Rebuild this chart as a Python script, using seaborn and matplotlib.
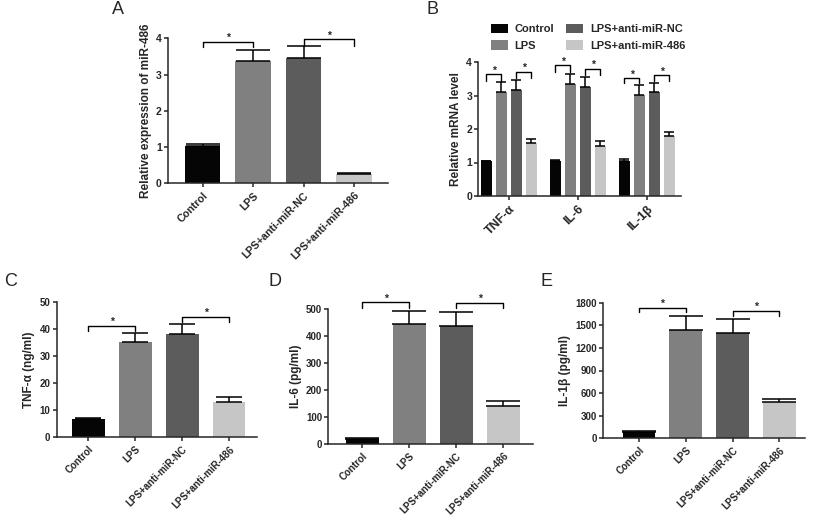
import numpy as np
import pandas as pd
import matplotlib
matplotlib.use('Agg')
import matplotlib.pyplot as plt
from matplotlib import font_manager
import seaborn as sns

# groups and colours
groups = ['Control', 'LPS', 'LPS+anti-miR-NC', 'LPS+anti-miR-486']
colors = ['#050505', '#808080', '#5c5c5c', '#c6c6c6']

# panel A - miR-486
mir_mean = [1.03, 3.38, 3.46, 0.26]
mir_err = [0.05, 0.31, 0.32, 0.02]

# panel B - mRNA levels
genes = ['TNF-α', 'IL-6', 'IL-1β']
b_control = [1.03, 1.04, 1.03]
b_control_err = [0.02, 0.03, 0.08]
b_lps = [3.10, 3.33, 3.02]
b_lps_err = [0.29, 0.31, 0.28]
b_nc = [3.15, 3.25, 3.10]
b_nc_err = [0.30, 0.31, 0.28]
b_486 = [1.57, 1.50, 1.78]
b_486_err = [0.12, 0.13, 0.14]

# panels C, D, E - ELISA
tnf_mean = [6.6, 35.3, 38.1, 13.1]
tnf_err = [0.4, 3.3, 3.5, 1.6]
il6_mean = [18, 444, 439, 141]
il6_err = [3, 51, 50, 20]
il1b_mean = [80, 1442, 1402, 482]
il1b_err = [17, 186, 177, 40]

# keep the narrow variant of Liberation Sans out of the font lookup
font_manager.fontManager.ttflist = [f for f in font_manager.fontManager.ttflist
                                    if 'Narrow' not in f.fname]

sns.set_style('ticks')
plt.rcParams['font.family'] = ['Liberation Sans', 'DejaVu Sans']
plt.rcParams['font.weight'] = 'bold'
plt.rcParams['axes.labelweight'] = 'bold'
plt.rcParams['axes.linewidth'] = 1.1
plt.rcParams['xtick.major.width'] = 1.1
plt.rcParams['ytick.major.width'] = 1.1
plt.rcParams['xtick.major.size'] = 3
plt.rcParams['ytick.major.size'] = 3
plt.rcParams['xtick.major.pad'] = 2
plt.rcParams['ytick.major.pad'] = 1.5

W, H = 813, 520
fig = plt.figure(figsize=(W / 100, H / 100), dpi=100)


def make_ax(left, right, top, bottom):
    return fig.add_axes([left / W, 1 - bottom / H, (right - left) / W, (bottom - top) / H])


def bracket(ax, x1, x2, y, y1, y2):
    ax.plot([x1, x1, x2, x2], [y1, y, y, y2], color='black', lw=1.0, clip_on=False)
    ax.annotate('*', xy=((x1 + x2) / 2, y), xytext=(0, -1), textcoords='offset points',
                ha='center', va='bottom', fontsize=7.5, fontweight='bold', annotation_clip=False)


def add_err(ax, xs, ys, errs, capsize):
    ax.errorbar(xs, ys, yerr=[np.zeros(len(errs)), errs], fmt='none', ecolor='black',
                elinewidth=1.1, capsize=capsize, capthick=1.1, zorder=5)


def simple_panel(ax, means, errs, ylabel, ylim, step, xlim, capsize, xsize, ysize):
    df = pd.DataFrame({'group': groups, 'value': means})
    sns.barplot(data=df, x='group', y='value', hue='group', palette=colors,
                legend=False, width=0.7, ax=ax, saturation=1, errorbar=None, linewidth=0)
    add_err(ax, np.arange(len(groups)), means, errs, capsize)
    ax.set_ylim(*ylim)
    ax.set_yticks(np.arange(ylim[0], ylim[1] + step / 2, step))
    ax.set_xlim(*xlim)
    ax.set_xlabel('')
    ax.set_ylabel(ylabel, fontsize=8.5, labelpad=3)
    ax.set_xticks(range(len(groups)))
    ax.set_xticklabels(groups, rotation=45, ha='right', rotation_mode='anchor')
    ax.tick_params(axis='x', labelsize=xsize)
    ax.tick_params(axis='y', labelsize=ysize)
    sns.despine(ax=ax)


# A
axA = make_ax(168, 388, 38.3, 183.3)
simple_panel(axA, mir_mean, mir_err, 'Relative expression of miR-486', (0, 4), 1,
             (-0.683, 3.67), 12, 7.7, 7.5)
bracket(axA, 0, 1, 3.9, 3.75, 3.75)
bracket(axA, 2, 3, 3.97, 3.8, 3.8)

# B
axB = make_ax(478.3, 680.7, 62, 196)
dfB = pd.DataFrame({
    'gene': genes * 4,
    'group': np.repeat(groups, 3),
    'value': b_control + b_lps + b_nc + b_486,
})
errsB = [b_control_err, b_lps_err, b_nc_err, b_486_err]
sns.barplot(data=dfB, x='gene', y='value', hue='group', palette=colors, width=0.87,
            gap=0.22, saturation=1, errorbar=None, linewidth=0, ax=axB)
centers = []
for cont, e in zip(axB.containers, errsB):
    xs = [p.get_x() + p.get_width() / 2 for p in cont]
    ys = [p.get_height() for p in cont]
    centers.append(xs)
    add_err(axB, xs, ys, e, 3.6)
axB.set_ylim(0, 4)
axB.set_yticks(range(5))
axB.set_xlim(-0.445, 2.49)
axB.set_xlabel('')
axB.set_ylabel('Relative mRNA level', fontsize=8.5, labelpad=3)
axB.set_xticks(range(3))
axB.set_xticklabels(genes, rotation=45, ha='right', rotation_mode='anchor')
axB.tick_params(axis='x', labelsize=9)
axB.tick_params(axis='y', labelsize=7.5)
sns.despine(ax=axB)
leg = axB.legend(ncol=2, loc='lower left', bbox_to_anchor=(0.04, 1.05), frameon=False,
                 prop={'size': 8, 'weight': 'bold'}, handlelength=1.5, handleheight=0.9,
                 columnspacing=1.05, handletextpad=0.65, labelspacing=0.55, borderaxespad=0)
bB = [(3.63, 3.43, 3.43, 3.71, 3.51, 3.51),
      (3.90, 3.70, 3.70, 3.80, 3.61, 3.61),
      (3.52, 3.36, 3.36, 3.60, 3.43, 3.43)]
for i, (ya, ya1, ya2, yb, yb1, yb2) in enumerate(bB):
    bracket(axB, centers[0][i], centers[1][i], ya, ya1, ya2)
    bracket(axB, centers[2][i], centers[3][i], yb, yb1, yb2)

# C
axC = make_ax(56.7, 256.7, 301.7, 437.3)
simple_panel(axC, tnf_mean, tnf_err, 'TNF-α (ng/ml)', (0, 50), 10, (-0.674, 3.59), 9.6, 7, 7)
bracket(axC, 0, 1, 41.1, 39.2, 39.2)
bracket(axC, 2, 3, 44.5, 42.4, 42.6)

# D
axD = make_ax(328.3, 533.3, 309.3, 444)
simple_panel(axD, il6_mean, il6_err, 'IL-6 (pg/ml)', (0, 500), 100, (-0.723, 3.64), 12.5, 7, 7)
bracket(axD, 0, 1, 526, 506, 506)
bracket(axD, 2, 3, 524, 506, 506)

# E
axE = make_ax(603.3, 805, 302.7, 438.3)
simple_panel(axE, il1b_mean, il1b_err, 'IL-1β (pg/ml)', (0, 1800), 300, (-0.763, 3.55), 12, 7, 7)
bracket(axE, 0, 1, 1734, 1672, 1672)
bracket(axE, 2, 3, 1694, 1630, 1630)

# panel letters
for letter, (px, py) in zip('ABCDE', [(118, 9), (432, 9), (11, 281), (275, 281), (546, 281)]):
    fig.text(px / W, 1 - py / H, letter, fontsize=13, fontweight='normal', ha='center', va='center')

fig.savefig('out.png', dpi=100)
